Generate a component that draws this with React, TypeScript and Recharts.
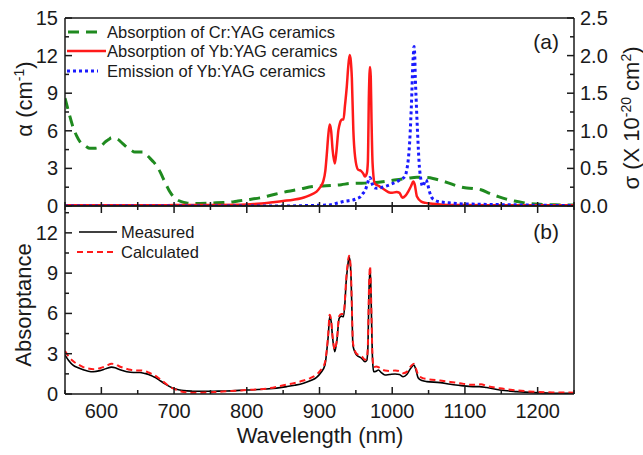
import { Line, LineChart, XAxis, YAxis } from "recharts";

const FONT = '"Liberation Sans", Arial, Helvetica, sans-serif';
const INK = "#1a1a1a";

// x axis (nm)
const X_TICKS = [550, 600, 650, 700, 750, 800, 850, 900, 950, 1000, 1050, 1100, 1150, 1200, 1250];
const X_LABELS = [600, 700, 800, 900, 1000, 1100, 1200];

// (a) left axis alpha (cm-1), right axis sigma (1e-20 cm2)
const ALPHA_TICKS = [0, 1.5, 3, 4.5, 6, 7.5, 9, 10.5, 12, 13.5, 15];
const ALPHA_LABELS = [0, 3, 6, 9, 12, 15];
const SIGMA_TICKS = [0, 0.25, 0.5, 0.75, 1, 1.25, 1.5, 1.75, 2, 2.25, 2.5];
const SIGMA_LABELS = [0, 0.5, 1, 1.5, 2, 2.5];

// (b) absorptance
const ABS_TICKS = [0, 1.5, 3, 4.5, 6, 7.5, 9, 10.5, 12, 13.5];
const ABS_LABELS = [0, 3, 6, 9, 12];

// Absorption of Cr:YAG ceramics
const crWl = [550, 556, 561, 566, 571, 578, 584, 590, 596, 601, 605, 610, 614, 619, 623, 629, 635, 641, 646, 652, 658, 662, 667, 672, 676, 681, 685, 690, 694, 699, 704, 710, 717, 727, 736, 748, 758, 768, 777, 788, 800, 818, 836, 855, 873, 891, 905, 919, 930, 942, 958, 974, 990, 1006, 1020, 1034, 1045, 1056, 1066, 1077, 1089, 1100, 1111, 1122, 1134, 1146, 1157, 1168, 1180, 1191, 1203, 1220, 1235, 1250];
const crAlpha = [8.6, 7.3, 6.3, 5.6, 5.1, 4.8, 4.6, 4.6, 4.65, 4.85, 5.1, 5.3, 5.45, 5.4, 5.3, 5.0, 4.7, 4.45, 4.3, 4.3, 4.3, 4.1, 3.8, 3.5, 3.2, 2.7, 2.2, 1.6, 1.15, 0.75, 0.5, 0.35, 0.25, 0.2, 0.2, 0.22, 0.25, 0.28, 0.3, 0.4, 0.5, 0.65, 0.9, 1.15, 1.35, 1.55, 1.6, 1.65, 1.7, 1.8, 1.82, 1.85, 1.95, 2.1, 2.2, 2.3, 2.28, 2.2, 2.05, 1.85, 1.6, 1.45, 1.4, 1.3, 1.0, 0.75, 0.55, 0.4, 0.27, 0.18, 0.13, 0.1, 0.08, 0.08];

// Absorption of Yb:YAG ceramics
const ybAbsWl = [550, 600, 650, 700, 750, 790, 810, 836, 850, 864, 875, 882, 890, 896, 901, 905, 908, 910, 912, 914, 916, 918, 921, 923, 926, 928, 931, 933, 935, 937.5, 939.5, 941.5, 943, 944.5, 946.5, 949, 953, 957, 960, 962.5, 965, 966.5, 968, 969.5, 970.5, 971.5, 973, 976, 983, 990, 995, 1000, 1006, 1010, 1014, 1018, 1022, 1026, 1029, 1031, 1034, 1040, 1046, 1052, 1060, 1070, 1100, 1150, 1200, 1250];
const ybAlpha = [0.05, 0.05, 0.06, 0.07, 0.08, 0.1, 0.15, 0.3, 0.4, 0.5, 0.62, 0.75, 0.95, 1.15, 1.5, 1.95, 2.8, 4.1, 5.6, 6.5, 6.0, 4.5, 3.4, 4.2, 6.05, 6.6, 6.9, 6.9, 8.0, 9.5, 11.1, 12.05, 11.6, 10.2, 6.1, 3.9, 2.9, 2.8, 2.6, 2.35, 2.6, 3.5, 9.0, 11.1, 10.3, 7.0, 3.4, 1.8, 1.55, 1.28, 1.1, 1.05, 1.12, 1.05, 0.65, 0.8, 1.15, 1.6, 1.95, 1.7, 0.75, 0.35, 0.25, 0.2, 0.15, 0.1, 0.07, 0.06, 0.05, 0.05];

// Emission of Yb:YAG ceramics
const ybEmWl = [550, 850, 880, 900, 914, 925, 933, 940, 946, 952, 956, 960, 963, 966, 968, 969.5, 971, 973, 976, 979, 985, 990, 996, 1001, 1006, 1011, 1015, 1018, 1020, 1022, 1024, 1025.5, 1027, 1028, 1029, 1030, 1031, 1031.5, 1033, 1034.5, 1036, 1037, 1039, 1042, 1044, 1046.5, 1049, 1051, 1054, 1058, 1063, 1070, 1080, 1092, 1110, 1140, 1170, 1200, 1250];
const ybSigma = [0, 0, 0.005, 0.01, 0.015, 0.04, 0.06, 0.07, 0.08, 0.1, 0.12, 0.17, 0.21, 0.3, 0.36, 0.38, 0.34, 0.28, 0.24, 0.235, 0.245, 0.26, 0.28, 0.3, 0.32, 0.35, 0.37, 0.4, 0.48, 0.61, 0.85, 1.14, 1.5, 1.81, 2.0, 2.12, 2.0, 1.8, 1.4, 1.05, 0.75, 0.57, 0.38, 0.26, 0.3, 0.35, 0.28, 0.2, 0.12, 0.08, 0.06, 0.05, 0.04, 0.03, 0.025, 0.02, 0.015, 0.01, 0.005];

// Measured absorptance
const measWl = [550, 555, 561, 568, 575, 582, 589, 598, 607, 614, 619, 623, 629, 635, 644, 653, 660, 665, 670, 676, 682, 688, 694, 699, 706, 713, 725, 736, 755, 772, 800, 827, 855, 866, 878, 888, 896, 902, 907.5, 910, 912, 914, 916, 918, 921, 924, 927, 930, 933, 935, 936.5, 939, 940.6, 942, 943.5, 944.7, 946, 951, 958, 962.6, 965, 966.5, 968, 969.5, 970.5, 971.6, 973, 974.5, 978, 981, 985, 990, 996, 1004, 1010, 1015, 1020, 1024, 1027, 1030, 1032, 1036, 1041, 1047.5, 1066, 1080, 1093, 1111, 1120, 1130, 1148, 1171, 1194, 1220, 1250];
const measured = [2.9, 2.5, 2.15, 1.95, 1.8, 1.7, 1.66, 1.74, 1.9, 2.0, 1.95, 1.86, 1.75, 1.66, 1.6, 1.6, 1.53, 1.46, 1.33, 1.17, 0.95, 0.74, 0.55, 0.42, 0.32, 0.25, 0.21, 0.2, 0.21, 0.22, 0.3, 0.37, 0.55, 0.65, 0.8, 1.0, 1.24, 1.6, 2.16, 3.2, 4.3, 5.76, 5.4, 4.2, 3.15, 4.0, 5.64, 5.8, 5.76, 6.8, 8.24, 9.6, 10.2, 9.9, 8.5, 6.0, 3.6, 2.9, 2.66, 2.4, 2.5, 3.4, 7.5, 9.36, 8.2, 5.5, 2.5, 1.66, 1.7, 1.79, 1.6, 1.42, 1.45, 1.49, 1.45, 1.29, 1.45, 1.8, 2.03, 2.16, 1.9, 1.17, 1.0, 0.92, 0.85, 0.72, 0.64, 0.55, 0.55, 0.48, 0.3, 0.18, 0.1, 0.06, 0.05];

// Calculated absorptance
const calcWl = [550, 555, 561, 568, 575, 582, 589, 598, 607, 614, 619, 625, 632, 640, 648, 655, 660, 665, 670, 676, 682, 688, 694, 700, 706, 713, 725, 736, 755, 772, 800, 827, 855, 866, 878, 888, 896, 902, 907.5, 910, 912, 914, 916, 918, 921, 924, 927, 930, 933, 935, 936.5, 939, 940.6, 942, 943.5, 944.7, 946, 951, 958, 962.6, 965, 966.5, 968, 969.5, 970.5, 971.6, 973, 974.5, 978, 981, 985, 990, 996, 1004, 1010, 1015, 1020, 1024, 1027, 1030, 1032, 1036, 1041, 1047.5, 1066, 1080, 1093, 1111, 1122, 1130, 1148, 1171, 1194, 1220, 1250];
const calculated = [3.2, 2.8, 2.45, 2.2, 2.0, 1.9, 1.85, 1.92, 2.1, 2.25, 2.22, 2.05, 1.92, 1.8, 1.75, 1.75, 1.7, 1.6, 1.48, 1.3, 1.05, 0.8, 0.55, 0.38, 0.25, 0.15, 0.1, 0.1, 0.14, 0.2, 0.3, 0.4, 0.7, 0.82, 1.0, 1.2, 1.45, 1.8, 2.35, 3.3, 4.5, 5.9, 5.5, 4.3, 3.3, 4.1, 5.8, 5.95, 5.95, 7.0, 8.4, 9.8, 10.3, 10.0, 8.6, 6.1, 3.8, 3.0, 2.8, 2.55, 2.65, 3.6, 7.7, 9.5, 8.3, 5.6, 2.7, 2.0, 2.05, 2.0, 1.85, 1.75, 1.72, 1.75, 1.7, 1.55, 1.65, 1.95, 2.15, 2.25, 2.0, 1.4, 1.2, 1.12, 1.0, 0.9, 0.8, 0.68, 0.72, 0.6, 0.42, 0.27, 0.17, 0.12, 0.1];

const zip = (xs: number[], ys: number[]) => xs.map((x, i) => ({ x, y: ys[i] }));

const crData = zip(crWl, crAlpha);
const ybAbsData = zip(ybAbsWl, ybAlpha);
const ybEmData = zip(ybEmWl, ybSigma);
const measData = zip(measWl, measured);
const calcData = zip(calcWl, calculated);

const GREEN = "#1f8a1f";
const RED = "#ff1a1a";
const BLUE = "#1a1aff";

const MAJOR = 7;
const MINOR = 4;
const tickText = { fontFamily: FONT, fontSize: 20, fill: INK };

type Side = "bottom" | "top" | "left" | "right";

function makeTick(side: Side, labels: number[] | null, fmt: (v: number) => string = String) {
  return (props: any) => {
    const { x, y, payload } = props;
    const v = payload.value as number;
    const isMajor = (labels ?? []).includes(v);
    const len = isMajor || labels === null ? MAJOR : MINOR;
    let line;
    let text = null;
    if (side === "bottom") {
      line = <line x1={x} x2={x} y1={y} y2={y - len} stroke={INK} strokeWidth={1.5} />;
      if (isMajor) text = <text x={x} y={y + 24} textAnchor="middle" {...tickText}>{fmt(v)}</text>;
    } else if (side === "top") {
      line = <line x1={x} x2={x} y1={y} y2={y + len} stroke={INK} strokeWidth={1.5} />;
    } else if (side === "left") {
      line = <line x1={x} x2={x + len} y1={y} y2={y} stroke={INK} strokeWidth={1.5} />;
      if (isMajor) text = <text x={x - 7} y={y + 7} textAnchor="end" {...tickText}>{fmt(v)}</text>;
    } else {
      line = <line x1={x} x2={x - len} y1={y} y2={y} stroke={INK} strokeWidth={1.5} />;
      if (isMajor) text = <text x={x + 6} y={y + 7} textAnchor="start" {...tickText}>{fmt(v)}</text>;
    }
    return (
      <g>
        {line}
        {text}
      </g>
    );
  };
}

const axisLine = { stroke: INK, strokeWidth: 1.5 };

function TopPanel() {
  return (
    <LineChart width={643} height={455} margin={{ top: 8, right: 19, bottom: 219, left: 15 }}>
      <XAxis xAxisId="b" dataKey="x" type="number" domain={[550, 1250]} ticks={X_TICKS} interval={0}
        allowDataOverflow tickSize={0} tickMargin={0} tickLine={false} axisLine={axisLine}
        tick={makeTick("bottom", [])} height={30} />
      <XAxis xAxisId="t" orientation="top" dataKey="x" type="number" domain={[550, 1250]}
        tick={false} tickLine={false} axisLine={axisLine} height={10} />
      <YAxis yAxisId="a" type="number" domain={[0, 15]} ticks={ALPHA_TICKS} interval={0}
        allowDataOverflow tickSize={0} tickMargin={0} tickLine={false} axisLine={axisLine}
        tick={makeTick("left", ALPHA_LABELS)} width={50} />
      <YAxis yAxisId="s" orientation="right" type="number" domain={[0, 2.5]} ticks={SIGMA_TICKS} interval={0}
        allowDataOverflow tickSize={0} tickMargin={0} tickLine={false} axisLine={axisLine}
        tick={makeTick("right", SIGMA_LABELS, (v) => v.toFixed(1))} width={50} />
      <Line xAxisId="b" yAxisId="a" data={crData} dataKey="y" type="monotone" stroke={GREEN}
        strokeWidth={3} strokeDasharray="11 7" dot={false} isAnimationActive={false} />
      <Line xAxisId="b" yAxisId="a" data={ybAbsData} dataKey="y" type="monotone" stroke={RED}
        strokeWidth={2.5} dot={false} isAnimationActive={false} />
      <Line xAxisId="b" yAxisId="s" data={ybEmData} dataKey="y" type="monotone" stroke={BLUE}
        strokeWidth={3} strokeDasharray="3 3" dot={false} isAnimationActive={false} />
    </LineChart>
  );
}

function BottomPanel() {
  return (
    <LineChart width={643} height={455} margin={{ top: 196, right: 19, bottom: 31, left: 15 }}>
      <XAxis xAxisId="b" dataKey="x" type="number" domain={[550, 1250]} ticks={X_TICKS} interval={0}
        allowDataOverflow tickSize={0} tickMargin={0} tickLine={false} axisLine={axisLine}
        tick={makeTick("bottom", X_LABELS)} height={30} />
      <XAxis xAxisId="t" orientation="top" dataKey="x" type="number" domain={[550, 1250]} ticks={X_TICKS}
        interval={0} allowDataOverflow tickSize={0} tickMargin={0} tickLine={false} axisLine={axisLine}
        tick={makeTick("top", X_LABELS)} height={10} />
      <YAxis yAxisId="a" type="number" domain={[0, 14]} ticks={ABS_TICKS} interval={0}
        allowDataOverflow tickSize={0} tickMargin={0} tickLine={false} axisLine={axisLine}
        tick={makeTick("left", ABS_LABELS)} width={50} />
      <YAxis yAxisId="r" orientation="right" type="number" domain={[0, 14]}
        tick={false} tickLine={false} axisLine={axisLine} width={50} />
      <Line xAxisId="b" yAxisId="a" data={measData} dataKey="y" type="monotone" stroke="#000"
        strokeWidth={1.6} dot={false} isAnimationActive={false} />
      <Line xAxisId="b" yAxisId="a" data={calcData} dataKey="y" type="monotone" stroke={RED}
        strokeWidth={2} strokeDasharray="6 4" dot={false} isAnimationActive={false} />
    </LineChart>
  );
}

function Annotations() {
  const legendText = { fontFamily: FONT, fontSize: 16.5, fill: INK };
  const title = { fontFamily: FONT, fontSize: 22, fill: INK };
  return (
    <svg width={643} height={455} style={{ position: "absolute", left: 0, top: 0, pointerEvents: "none" }}>
      {/* legend (a) */}
      <line x1={68} x2={98} y1={32} y2={32} stroke={GREEN} strokeWidth={3} strokeDasharray="11 7" />
      <text x={107} y={38} {...legendText}>Absorption of Cr:YAG ceramics</text>
      <line x1={67} x2={106} y1={51} y2={51} stroke={RED} strokeWidth={2.5} />
      <text x={107} y={57} {...legendText}>Absorption of Yb:YAG ceramics</text>
      <line x1={67} x2={98} y1={71} y2={71} stroke={BLUE} strokeWidth={3} strokeDasharray="3 3" />
      <text x={107} y={77} {...legendText}>Emission of Yb:YAG ceramics</text>

      {/* legend (b) */}
      <line x1={79} x2={117} y1={232} y2={232} stroke="#000" strokeWidth={1.6} />
      <text x={121} y={238} {...legendText}>Measured</text>
      <line x1={77} x2={117} y1={252} y2={252} stroke={RED} strokeWidth={2} strokeDasharray="6 4" />
      <text x={121} y={258} {...legendText}>Calculated</text>

      <text x={559} y={49} textAnchor="end" {...title} fontSize={21}>(a)</text>
      <text x={559} y={239} textAnchor="end" {...title} fontSize={21}>(b)</text>

      {/* axis titles */}
      <text transform="translate(32,99) rotate(-90)" textAnchor="middle" {...title}>
        α (cm<tspan dy={-8} fontSize={14}>-1</tspan><tspan dy={8}>)</tspan>
      </text>
      <text transform="translate(639,118) rotate(-90)" textAnchor="middle" {...title}>
        σ (X 10<tspan dy={-8} fontSize={14}>-20</tspan><tspan dy={8}> cm</tspan>
        <tspan dy={-8} fontSize={14}>2</tspan><tspan dy={8}>)</tspan>
      </text>
      <text transform="translate(31,305) rotate(-90)" textAnchor="middle" {...title}>Absorptance</text>
      <text x={320} y={443} textAnchor="middle" {...title}>Wavelength (nm)</text>
    </svg>
  );
}

export default function App() {
  return (
    <div style={{ position: "absolute", left: 0, top: 0, width: 643, height: 455, background: "#fff" }}>
      <div style={{ position: "absolute", left: 0, top: 0 }}>
        <TopPanel />
      </div>
      <div style={{ position: "absolute", left: 0, top: 0 }}>
        <BottomPanel />
      </div>
      <Annotations />
    </div>
  );
}
